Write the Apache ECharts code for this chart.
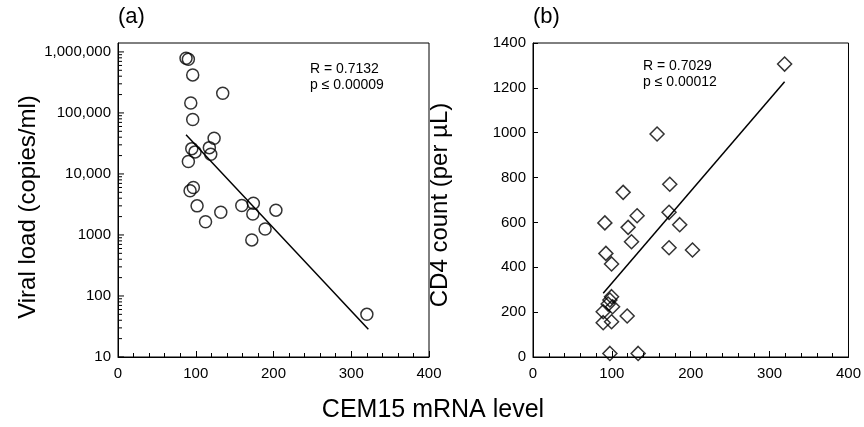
<!DOCTYPE html>
<html><head><meta charset="utf-8">
<script src="https://cdn.jsdelivr.net/npm/echarts@6/dist/echarts.min.js"></script>
<style>html,body{margin:0;padding:0;background:#fff}#c{width:864px;height:427px}</style>
</head><body><div id="c"></div>
<script>
// Panel (a): CEM15 mRNA level vs viral load (copies/ml)
const cemA = [87.5, 90.5, 96.1, 134.7, 93.6, 96.1, 123.6, 94.9, 99.1, 117.5, 119.3, 90.5, 96.9, 92.7, 101.7, 112.6, 132.2, 159.2, 174.1, 173.4, 203.1, 189.2, 172.1, 320.1];
const viralLoad = [789000, 759000, 420000, 210000, 145000, 78000, 38500, 26000, 23000, 27000, 21000, 16000, 6000, 5300, 3000, 1650, 2350, 3050, 3300, 2200, 2550, 1250, 830, 50];
const fitAx = [87.5, 322];
const fitAy = [44000, 28.6];
// Panel (b): CEM15 mRNA level vs CD4 count
const cemB = [114.3, 173.4, 91.1, 132, 120.6, 124.9, 172.5, 186, 172.5, 202.2, 92.4, 99.6, 99.6, 97.5, 95.3, 100.9, 89, 119.4, 89, 99.6, 97.5, 133.3, 319, 157.3];
const cd4 = [734, 770, 598, 630, 578, 514, 645, 590, 487, 477, 462, 415, 269, 254, 236, 224, 202, 183, 153, 157, 16, 16, 1306, 994];
const fitBx = [89, 319];
const fitBy = [284, 1227];
// Tick values / labels
const yTicksA = [10, 100, 1000, 10000, 100000, 1000000];
const yTickLabelsA = ['10', '100', '1000', '10,000', '100,000', '1,000,000'];
const yMinorA = [];
for (let k = 1; k <= 5; k++) for (let m = 2; m <= 9; m++) yMinorA.push(m * Math.pow(10, k));

const zip = (a, b) => a.map((v, i) => [v, b[i]]);
const FONT = 'Liberation Sans, Arial, sans-serif';
const black = '#000';

const xAxisBase = (gi) => ({
  type: 'value', gridIndex: gi, min: 0, max: 400, interval: 100,
  axisLine: { show: true, lineStyle: { color: black, width: 1 } },
  axisTick: { show: true, inside: true, length: 6, lineStyle: { color: black, width: 1 } },
  minorTick: { show: true, splitNumber: 5, length: 4, lineStyle: { color: black, width: 1 } },
  splitLine: { show: false },
  axisLabel: { color: black, fontSize: 15, margin: 9, fontFamily: FONT }
});

// tick marks for the log axis, drawn through the axis scale
const logTickData = yTicksA.map(v => [0, v, 6]).concat(yMinorA.map(v => [0, v, 4]));
const renderLogTick = (params, api) => {
  const p = api.coord([api.value(0), api.value(1)]);
  const len = api.value(2);
  return { type: 'line', shape: { x1: p[0], y1: p[1], x2: p[0] + len, y2: p[1] },
           style: { stroke: black, lineWidth: 1 } };
};

const chart = echarts.init(document.getElementById('c'), null, { renderer: 'canvas' });
chart.setOption({
  animation: false,
  backgroundColor: '#fff',
  textStyle: { fontFamily: FONT },
  grid: [
    { left: 118, top: 43, width: 311, height: 314, show: true, borderColor: black, borderWidth: 1, backgroundColor: 'transparent' },
    { left: 533, top: 43, width: 316, height: 314, show: true, borderColor: black, borderWidth: 1, backgroundColor: 'transparent' }
  ],
  xAxis: [xAxisBase(0), xAxisBase(1)],
  yAxis: [
    {
      type: 'log', logBase: 10, gridIndex: 0, min: 10, max: 1400000, position: 'left',
      axisLine: { show: true, lineStyle: { color: black } },
      axisTick: { show: false },
      axisLabel: { customValues: yTicksA, color: black, fontSize: 15, margin: 7, fontFamily: FONT,
        formatter: (v) => { const i = yTicksA.findIndex(t => Math.abs(t - v) / t < 1e-6); return i >= 0 ? yTickLabelsA[i] : ''; } },
      splitLine: { show: false },
      name: 'Viral load (copies/ml)', nameLocation: 'middle', nameGap: 75,
      nameTextStyle: { color: black, fontSize: 24, fontFamily: FONT, padding: [0, 14, 0, 0] }
    },
    {
      type: 'value', gridIndex: 1, min: 0, max: 1400, interval: 200, position: 'left',
      axisLine: { show: true, lineStyle: { color: black } },
      axisTick: { show: true, inside: true, length: 5, lineStyle: { color: black, width: 1 } },
      axisLabel: { color: black, fontSize: 15, margin: 7, fontFamily: FONT, formatter: (v) => String(v) },
      splitLine: { show: false },
      name: 'CD4 count (per µL)', nameLocation: 'middle', nameGap: 81,
      nameTextStyle: { color: black, fontSize: 24, fontFamily: FONT, padding: [0, 10, 0, 0] }
    }
  ],
  series: [
    { type: 'custom', xAxisIndex: 0, yAxisIndex: 0, data: logTickData, renderItem: renderLogTick, clip: false, silent: true, z: 1 },
    { type: 'line', xAxisIndex: 0, yAxisIndex: 0, data: zip(fitAx, fitAy), showSymbol: false, symbol: 'none',
      lineStyle: { color: black, width: 1.5 }, z: 2 },
    { type: 'scatter', xAxisIndex: 0, yAxisIndex: 0, data: zip(cemA, viralLoad), symbol: 'circle', symbolSize: 12,
      itemStyle: { color: 'rgba(0,0,0,0)', borderColor: black, borderWidth: 1.5 }, z: 3 },
    { type: 'line', xAxisIndex: 1, yAxisIndex: 1, data: zip(fitBx, fitBy), showSymbol: false, symbol: 'none',
      lineStyle: { color: black, width: 1.5 }, z: 2 },
    { type: 'scatter', xAxisIndex: 1, yAxisIndex: 1, data: zip(cemB, cd4), symbol: 'diamond', symbolSize: 14,
      itemStyle: { color: 'rgba(0,0,0,0)', borderColor: black, borderWidth: 1.5 }, z: 3 }
  ],
  graphic: [
    { type: 'text', left: 118, top: 6, style: { text: '(a)', font: '22px ' + FONT, fill: black } },
    { type: 'text', left: 533, top: 6, style: { text: '(b)', font: '22px ' + FONT, fill: black } },
    { type: 'text', x: 433, y: 410, style: { text: 'CEM15 mRNA level', font: '25px ' + FONT, fill: black, textAlign: 'center', textVerticalAlign: 'middle' } },
    { type: 'text', x: 310, y: 69, style: { text: 'R = 0.7132', font: '14px ' + FONT, fill: black, textVerticalAlign: 'middle' } },
    { type: 'text', x: 310, y: 85, style: { text: 'p ≤ 0.00009', font: '14px ' + FONT, fill: black, textVerticalAlign: 'middle' } },
    { type: 'text', x: 643, y: 66, style: { text: 'R = 0.7029', font: '14px ' + FONT, fill: black, textVerticalAlign: 'middle' } },
    { type: 'text', x: 643, y: 82, style: { text: 'p ≤ 0.00012', font: '14px ' + FONT, fill: black, textVerticalAlign: 'middle' } }
  ]
});
</script></body></html>
